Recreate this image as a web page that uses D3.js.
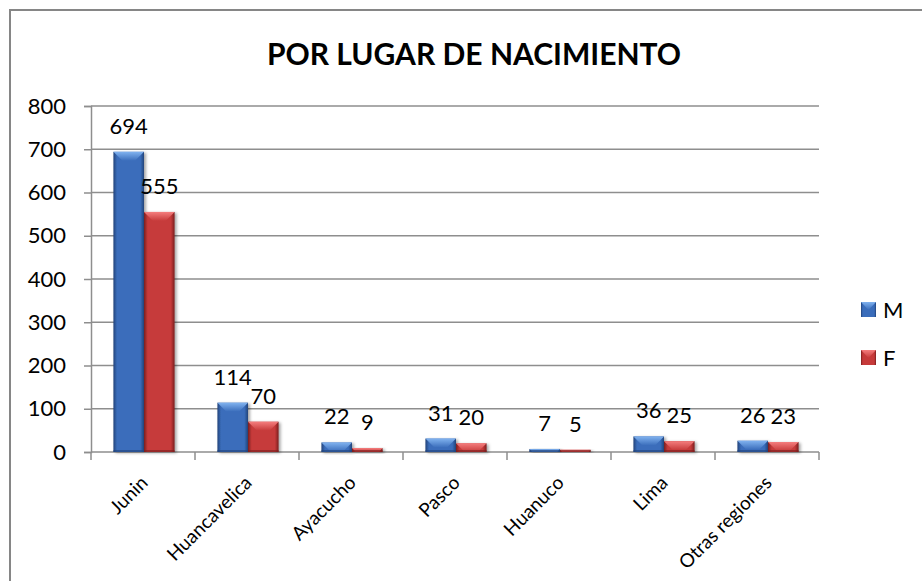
<!DOCTYPE html>
<html>
<head>
<meta charset="utf-8">
<script src="https://cdn.jsdelivr.net/npm/d3@7"></script>
<style>
  body { margin: 0; background: #fff; }
  svg { display: block; font-family: Lato, "Open Sans", sans-serif; }
</style>
</head>
<body>
<svg id="chart" width="922" height="581"></svg>
<script>
var categories = ["Junin", "Huancavelica", "Ayacucho", "Pasco", "Huanuco", "Lima", "Otras regiones"];
var seriesNames = ["M", "F"];
var valuesM = [694, 114, 22, 31, 7, 36, 26];
var valuesF = [555, 70, 9, 20, 5, 25, 23];
var yTicks = [0, 100, 200, 300, 400, 500, 600, 700, 800];

var colors = {
  M: { dark: "#22437a", main: "#3a6dbb", light: "#80b2ef" },
  F: { dark: "#7a1e1e", main: "#c63a3a", light: "#f47d7d" }
};

var svg = d3.select("#chart");

var plotLeft = 91, plotRight = 819, plotTop = 106, plotBottom = 452;

// chart frame
svg.append("rect")
  .attr("x", 10).attr("y", 10)
  .attr("width", 940).attr("height", 620)
  .attr("fill", "#fff")
  .attr("stroke", "#868686")
  .attr("stroke-width", 2);

svg.append("text")
  .attr("x", 474)
  .attr("y", 65)
  .attr("text-anchor", "middle")
  .style("font-size", "30px")
  .style("font-weight", "bold")
  .text("POR LUGAR DE NACIMIENTO");

var defs = svg.append("defs");
seriesNames.forEach(function(s) {
  var c = colors[s];
  var g = defs.append("linearGradient").attr("id", "grad" + s)
    .attr("x1", "0").attr("x2", "1").attr("y1", "0").attr("y2", "0");
  g.append("stop").attr("offset", "0%").attr("stop-color", c.dark);
  g.append("stop").attr("offset", "12%").attr("stop-color", c.main);
  g.append("stop").attr("offset", "55%").attr("stop-color", c.main);
  g.append("stop").attr("offset", "88%").attr("stop-color", c.main);
  g.append("stop").attr("offset", "100%").attr("stop-color", c.dark);

  var t = defs.append("linearGradient").attr("id", "top" + s)
    .attr("x1", "0").attr("x2", "0").attr("y1", "0").attr("y2", "1");
  t.append("stop").attr("offset", "0%").attr("stop-color", c.light);
  t.append("stop").attr("offset", "100%").attr("stop-color", c.main);
});

var shadow = defs.append("filter").attr("id", "shadow")
  .attr("x", "-20%").attr("y", "-20%").attr("width", "150%").attr("height", "150%");
shadow.append("feDropShadow")
  .attr("dx", 2).attr("dy", 1).attr("stdDeviation", 1.5)
  .attr("flood-color", "#000").attr("flood-opacity", 0.35);

var x = d3.scaleBand()
  .domain(categories)
  .range([plotLeft, plotRight])
  .paddingInner(0)
  .paddingOuter(0);

var x1 = d3.scaleBand()
  .domain(seriesNames)
  .range([0, x.bandwidth()])
  .paddingInner(0)
  .paddingOuter(0.7);

var y = d3.scaleLinear()
  .domain([0, 800])
  .range([plotBottom, plotTop]);

// gridlines
svg.append("g")
  .selectAll("line")
  .data(yTicks.slice(1))
  .join("line")
    .attr("x1", plotLeft).attr("x2", plotRight)
    .attr("y1", d => y(d)).attr("y2", d => y(d))
    .attr("stroke", "#8e8e8e")
    .attr("stroke-width", 1.5);

// y axis
var yAxis = svg.append("g")
  .attr("transform", "translate(" + plotLeft + ",0)")
  .call(d3.axisLeft(y).tickValues(yTicks).tickSize(7).tickPadding(18));
yAxis.selectAll("line, path").attr("stroke", "#8e8e8e").attr("stroke-width", 1.5);
yAxis.selectAll("text").style("font-size", "22px").style("font-family", "Lato").attr("fill", "#000");

// x axis (ticks at category boundaries)
var xAxis = svg.append("g");
xAxis.append("line")
  .attr("x1", plotLeft).attr("x2", plotRight)
  .attr("y1", plotBottom).attr("y2", plotBottom)
  .attr("stroke", "#8e8e8e").attr("stroke-width", 1.5);
xAxis.selectAll(".tk")
  .data(categories.concat(["end"]))
  .join("line")
    .attr("class", "tk")
    .attr("x1", (d, i) => i < categories.length ? x(d) : plotRight)
    .attr("x2", (d, i) => i < categories.length ? x(d) : plotRight)
    .attr("y1", plotBottom).attr("y2", plotBottom + 8)
    .attr("stroke", "#8e8e8e").attr("stroke-width", 1.5);

xAxis.selectAll(".cat")
  .data(categories)
  .join("text")
    .attr("class", "cat")
    .attr("transform", d => "translate(" + (x(d) + x.bandwidth() / 2 + 6) + "," + 484 + ") rotate(-45)")
    .attr("text-anchor", "end")
    .style("font-size", "19px")
    .text(d => d);

// bars
var rows = categories.map(function(c, i) {
  return { cat: c, M: valuesM[i], F: valuesF[i] };
});

var groups = svg.append("g")
  .selectAll("g")
  .data(rows)
  .join("g")
    .attr("transform", d => "translate(" + (x(d.cat) + 1) + ",0)");

var bars = groups.selectAll("g.bar")
  .data(d => seriesNames.map(s => ({ key: s, value: d[s] })))
  .join("g")
    .attr("class", "bar");

bars.append("rect")
  .attr("x", d => x1(d.key))
  .attr("y", d => y(d.value))
  .attr("width", x1.bandwidth())
  .attr("height", d => y(0) - y(d.value))
  .attr("fill", d => "url(#grad" + d.key + ")")
  .attr("filter", "url(#shadow)");

bars.append("polygon")
  .attr("points", function(d) {
    var x0 = x1(d.key), w = x1.bandwidth();
    var t = y(d.value);
    var b = Math.min(9, y(0) - y(d.value));
    return [[x0, t], [x0 + w, t], [x0 + w - b, t + b], [x0 + b, t + b]].join(" ");
  })
  .attr("fill", d => "url(#top" + d.key + ")");

// thin darker bottom edge
bars.append("rect")
  .attr("x", d => x1(d.key))
  .attr("y", y(0) - 2)
  .attr("width", x1.bandwidth())
  .attr("height", d => Math.min(2, y(0) - y(d.value)))
  .attr("fill", d => colors[d.key].dark)
  .attr("opacity", 0.6);

// data labels
bars.append("text")
  .attr("x", d => x1(d.key) + x1.bandwidth() / 2)
  .attr("y", d => y(d.value) - 18)
  .attr("text-anchor", "middle")
  .style("font-size", "22px")
  .text(d => d.value);

// legend
var legend = svg.append("g")
  .selectAll("g")
  .data(seriesNames)
  .join("g")
    .attr("transform", (d, i) => "translate(861," + (302 + i * 48) + ")");

legend.append("rect")
  .attr("width", 15).attr("height", 15)
  .attr("fill", d => "url(#grad" + d + ")");
legend.append("polygon")
  .attr("points", "0,0 15,0 7.5,8")
  .attr("fill", d => "url(#top" + d + ")");
legend.append("text")
  .attr("x", 22)
  .attr("y", 16)
  .style("font-size", "22px")
  .text(d => d);
</script>
</body>
</html>
